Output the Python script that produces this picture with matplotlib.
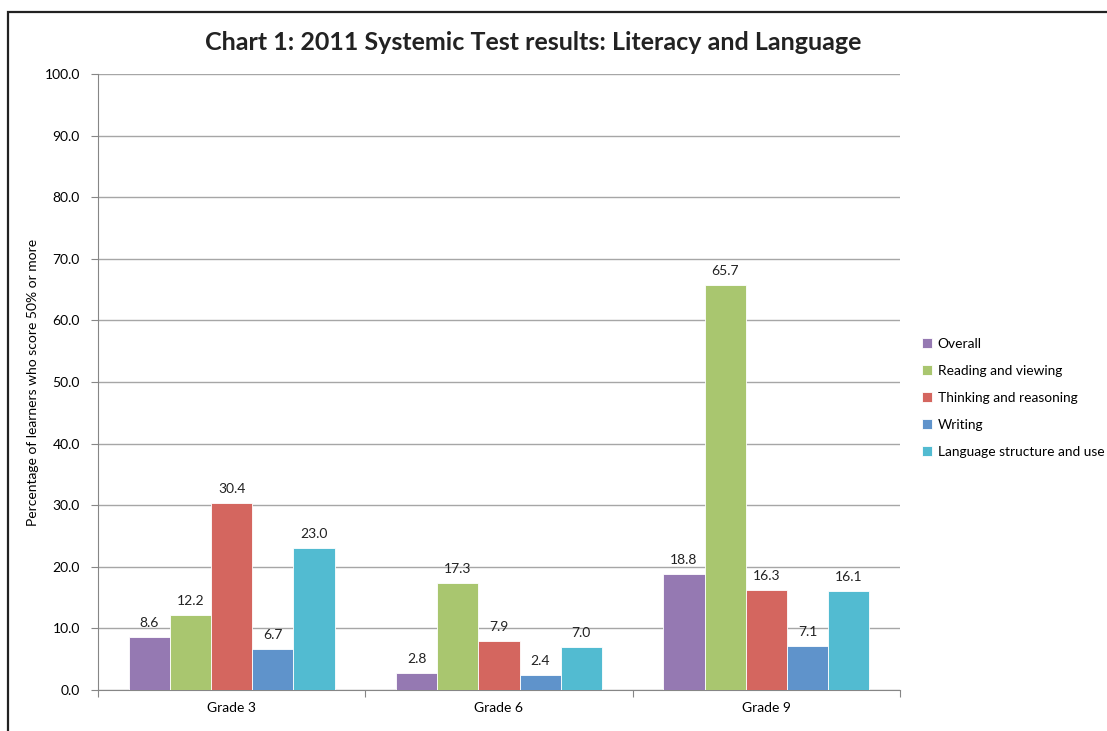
import numpy as np
import matplotlib.pyplot as plt
from matplotlib.patches import Rectangle

plt.rcParams['font.family'] = ['Lato', 'DejaVu Sans']

grades = ['Grade 3', 'Grade 6', 'Grade 9']
series = ['Overall', 'Reading and viewing', 'Thinking and reasoning',
          'Writing', 'Language structure and use']
overall = [8.6, 2.8, 18.8]
reading = [12.2, 17.3, 65.7]
thinking = [30.4, 7.9, 16.3]
writing = [6.7, 2.4, 7.1]
language = [23.0, 7.0, 16.1]
colors = ['#9579B2', '#A9C66F', '#D4665F', '#5F93CB', '#52BBD1']

fig = plt.figure(figsize=(11.07, 7.31), dpi=100)
# outer frame, clipped at the right and bottom edges
fig.add_artist(Rectangle((8 / 1107, -0.05), 1.2, (731 - 12) / 731 + 0.05,
                         transform=fig.transFigure, fill=False,
                         edgecolor='#222222', linewidth=1.6))

ax = fig.add_axes([98 / 1107, 1 - 690 / 731, (900 - 98) / 1107, (690 - 74) / 731])

x = np.arange(len(grades))
w = 0.154
values = [overall, reading, thinking, writing, language]
for i, (vals, name, c) in enumerate(zip(values, series, colors)):
    pos = x + (i - 2) * w
    ax.bar(pos, vals, width=w, color=c, label=name, zorder=3,
           edgecolor='white', linewidth=0.6)
    for xp, v in zip(pos, vals):
        ax.text(xp, v + 1.3, f'{v:.1f}', ha='center', va='bottom',
                fontsize=10, color='#222222')

ax.set_ylim(0, 100)
ax.set_xlim(-0.5, 2.5)
ax.set_yticks(np.arange(0, 101, 10))
ax.set_yticklabels([f'{t:.1f}' for t in np.arange(0, 101, 10)], fontsize=10)
ax.yaxis.grid(True, color='#A6A6A6', linewidth=1.0, zorder=0)
ax.set_xticks([-0.5, 0.5, 1.5, 2.5])
ax.set_xticklabels([])
ax.set_xticks(x, minor=True)
ax.set_xticklabels(grades, minor=True, fontsize=10)
ax.tick_params(axis='x', which='minor', length=0, pad=9)
ax.tick_params(axis='x', which='major', length=5, color='#868686')
ax.tick_params(axis='y', length=5, color='#868686', pad=8)
for s in ['top', 'right']:
    ax.spines[s].set_visible(False)
for s in ['left', 'bottom']:
    ax.spines[s].set_color('#868686')

ax.set_ylabel('Percentage of learners who score 50% or more', fontsize=10,
              labelpad=4)
fig.text(533 / 1107, 1 - 43 / 731,
         'Chart 1: 2011 Systemic Test results: Literacy and Language',
         ha='center', va='center', fontsize=18, fontweight='bold',
         color='#222222')

ax.legend(loc='center left', bbox_to_anchor=(919 / 1107, 1 - 398 / 731),
          bbox_transform=fig.transFigure, frameon=False, fontsize=9.9,
          handlelength=0.75, handleheight=0.75, handletextpad=0.4,
          labelspacing=1.1, borderaxespad=0, borderpad=0.2)

fig.savefig('out.png', dpi=100)
